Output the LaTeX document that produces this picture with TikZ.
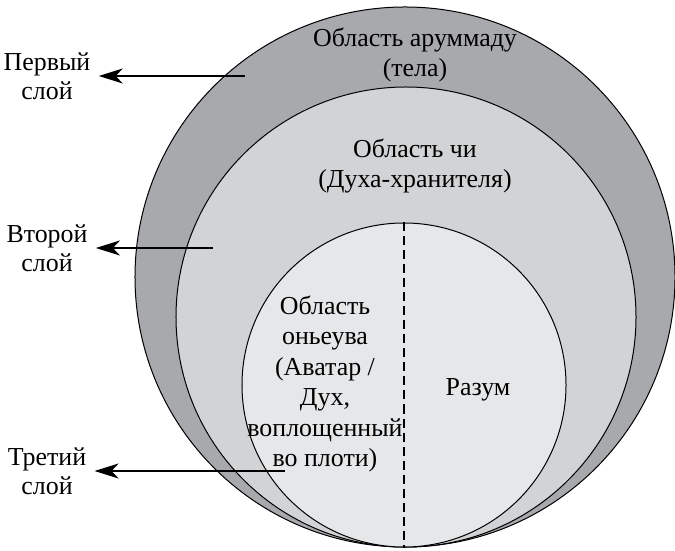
\documentclass[tikz,border=0pt]{standalone}
\usepackage{fontspec}
\setmainfont{Liberation Serif}
\usepackage{tikz}
\usetikzlibrary{shapes.geometric, arrows.meta, calc}
\definecolor{bodygray}{RGB}{168,169,173}
\definecolor{spiritgray}{RGB}{210,211,213}
\definecolor{coregray}{RGB}{230,231,233}
\tikzstyle{ring} = [circle, draw=black, line width=0.5bp, inner sep=0pt]
\tikzstyle{areatext} = [font=\fontsize{13}{15.3}\selectfont, align=center, inner sep=0pt]
\tikzstyle{layertext} = [font=\fontsize{13}{14.5}\selectfont, align=center, inner sep=4bp]
\tikzstyle{divider} = [line width=1bp, dash pattern=on 4.5bp off 2.5bp]
\tikzstyle{arrow} = [line width=1bp, -{Stealth[length=12bp, width=7.5bp, inset=3.5bp]}]

\begin{document}
\begin{tikzpicture}[x=0.5bp, y=-0.5bp]
\useasboundingbox (0,0) rectangle (675,551);
% nested regions
\node (body) [ring, fill=bodygray, minimum size=270bp] at (405,277) {};
\node (spirit) [ring, fill=spiritgray, minimum size=230bp] at (406,317) {};
\node (core) [ring, fill=coregray, minimum size=162bp] at (404,385) {};
\draw [divider] (core.north) -- (core.south);

\node (bodytext) [areatext] at (415,55) {Область аруммаду\\(тела)};
\node (spirittext) [areatext] at (415,166) {Область чи\\(Духа-хранителя)};
\node (avatartext) [areatext] at (325,384) {Область\\оньеува\\(Аватар /\\Дух,\\воплощенный\\во плоти)};
\node (mindtext) [areatext] at (478,390) {Разум};

% layers
\node (layer1) [layertext] at (47,76) {Первый\\слой};
\node (layer2) [layertext] at (47,248) {Второй\\слой};
\node (layer3) [layertext] at (47,471) {Третий\\слой};
\coordinate (tail1) at (245,76);
\coordinate (tail2) at (213,248);
\coordinate (tail3) at (285,471);

\draw [arrow] (tail1) -- (layer1);
\draw [arrow] (tail2) -- (layer2);
\draw [arrow] (tail3) -- (layer3);
\end{tikzpicture}
\end{document}
